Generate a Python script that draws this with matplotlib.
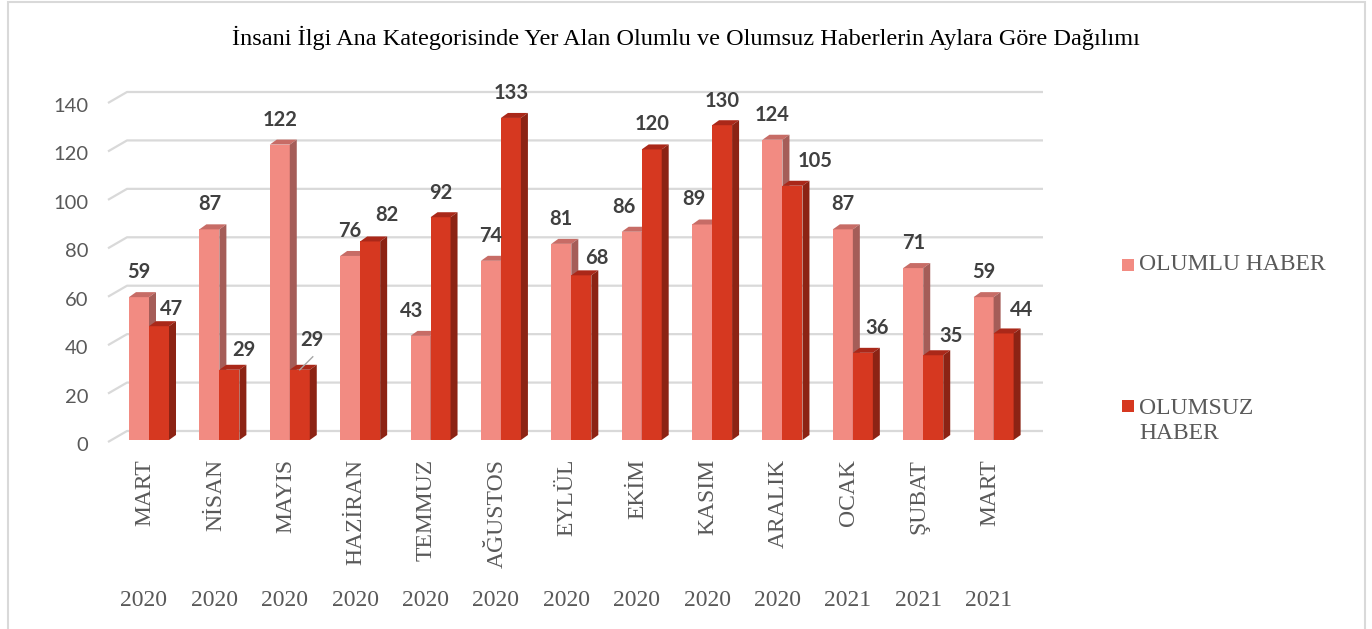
import matplotlib.pyplot as plt
from matplotlib.patches import Polygon, Rectangle

# Veriler
months = ["MART", "NİSAN", "MAYIS", "HAZİRAN", "TEMMUZ", "AĞUSTOS", "EYLÜL",
          "EKİM", "KASIM", "ARALIK", "OCAK", "ŞUBAT", "MART"]
years = ["2020"] * 10 + ["2021"] * 3
olumlu = [59, 87, 122, 76, 43, 74, 81, 86, 89, 124, 87, 71, 59]
olumsuz = [47, 29, 29, 82, 92, 133, 68, 120, 130, 105, 36, 35, 44]
y_ticks = [0, 20, 40, 60, 80, 100, 120, 140]

# Etiket kaydirmalari (piksel)
pink_dx = [0, 0, 0, 0, -9, 0, 0, -8, -8, 0, 0, 0, 0]
red_dx = [13, 14, 12, 17, 0, 0, 16, 0, 0, 23, 14, 18, 18]
red_dy = [17, 20, 30, 26, 24, 25, 17, 25, 24, 25, 25, 19, 23]

W, H = 1372, 629
fig = plt.figure(figsize=(W / 100, H / 100), dpi=100)
ax_left, ax_right, ax_y0, ax_ytop = 114, 1029, 440, 101
ax = fig.add_axes([ax_left / W, (H - ax_y0) / H, (ax_right - ax_left) / W,
                   (ax_y0 - ax_ytop) / H])
ax.set_xlim(-0.5, len(months) - 0.5)
ax.set_ylim(0, 140)
ax.axis('off')

px_x = (ax_right - ax_left) / len(months)   # piksel / birim x
px_y = (ax_y0 - ax_ytop) / 140              # piksel / birim y


def dx(p):
    return p / px_x


def dy(p):
    return p / px_y


sans = 'Lato'
serif = 'Liberation Serif'
gray = '#595959'

# Izgara cizgileri (arka duvar + sol diyagonal)
for v in y_ticks:
    ax.plot([-0.5 - dx(6), -0.5 + dx(13), -0.5 + dx(929)],
            [v - dy(2), v + dy(9), v + dy(9)],
            color='#D9D9D9', lw=1.6, clip_on=False, zorder=1,
            solid_capstyle='butt')
    ax.text(-0.5 - dx(26), v - dy(5.5), str(v), ha='right', va='center',
            fontsize=14.5, color=gray, family=sans, clip_on=False)

bw = dx(20)
ddx, ddy = dx(7), dy(5)


def bar3d(x0, v, front, top, side, z):
    x1 = x0 + bw
    ax.add_patch(Rectangle((x0, 0), bw, v, facecolor=front, edgecolor='none',
                           zorder=z))
    ax.add_patch(Polygon([(x0, v), (x1, v), (x1 + ddx, v + ddy),
                          (x0 + ddx, v + ddy)], closed=True, facecolor=top,
                         edgecolor='none', zorder=z))
    ax.add_patch(Polygon([(x1, 0), (x1, v), (x1 + ddx, v + ddy),
                          (x1 + ddx, ddy)], closed=True, facecolor=side,
                         edgecolor='none', zorder=z))


for i in range(len(months)):
    xp = i - 0.5 + dx(15)
    xr = xp + bw
    bar3d(xp, olumlu[i], '#F28B82', '#C76C66', '#A55D58', 3 + 2 * i)
    bar3d(xr, olumsuz[i], '#D63820', '#AA2819', '#8C2314', 4 + 2 * i)

    ax.annotate(str(olumlu[i]), (xp + bw / 2, olumlu[i]),
                xytext=(pink_dx[i], 25), textcoords='offset pixels',
                ha='center', va='center', fontsize=14.5, fontweight='bold',
                color='#404040', family=sans, zorder=40)
    ax.annotate(str(olumsuz[i]), (xr + bw / 2, olumsuz[i]),
                xytext=(red_dx[i], red_dy[i]), textcoords='offset pixels',
                ha='center', va='center', fontsize=14.5, fontweight='bold',
                color='#404040', family=sans, zorder=40)

    ax.text(i - 0.5 + dx(31), -dy(19), months[i], rotation=90, ha='center',
            va='top', fontsize=17, color=gray, family=serif, clip_on=False)
    ax.text(i - 0.5 + dx(30), -dy(160), years[i], ha='center', va='center',
            fontsize=17, color=gray, family=serif, clip_on=False)

# MAYIS olumsuz etiketi icin kilavuz cizgi
xm = 2 - 0.5 + dx(15) + 1.5 * bw
ax.plot([xm, xm + dx(13)], [olumsuz[2], olumsuz[2] + dy(13)],
        color='#A6A6A6', lw=1, zorder=41)

# Baslik
fig.text(0.5, 1 - 38 / H,
         "İnsani İlgi Ana Kategorisinde Yer Alan Olumlu ve Olumsuz Haberlerin Aylara Göre Dağılımı",
         ha='center', va='center', fontsize=17.5, family=serif, color='black')

# Lejant
fig.add_artist(Rectangle((1122 / W, 1 - 271 / H), 12 / W, 12 / H,
                         facecolor='#F28B82', edgecolor='none'))
fig.text(1139 / W, 1 - 265 / H, "OLUMLU HABER", ha='left', va='center',
         fontsize=17, family=serif, color=gray)
fig.add_artist(Rectangle((1122 / W, 1 - 412 / H), 12 / W, 12 / H,
                         facecolor='#D63820', edgecolor='none'))
fig.text(1139 / W, 1 - 421 / H, "OLUMSUZ\nHABER", ha='left', va='center',
         fontsize=17, family=serif, color=gray, linespacing=1.2)

# Cerceve
fig.add_artist(Rectangle((8 / W, -0.05), (1365 - 8) / W, 1.05 - 2 / H,
                         facecolor='none', edgecolor='#D9D9D9', lw=1.5))

plt.savefig('out.png', dpi=100)
